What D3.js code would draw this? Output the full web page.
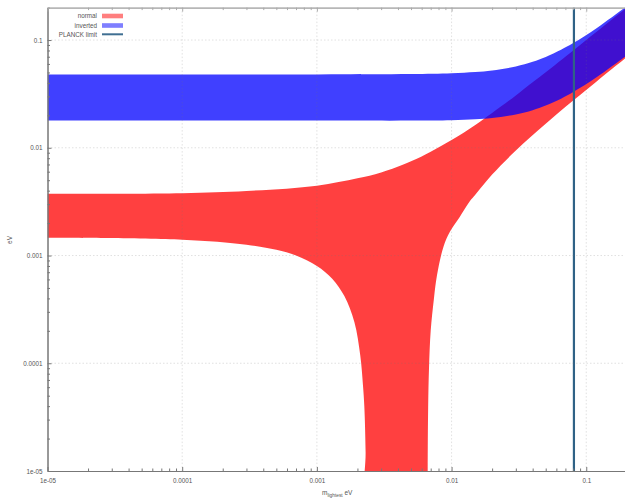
<!DOCTYPE html>
<html>
<head>
<meta charset="utf-8">
<script src="https://cdn.jsdelivr.net/npm/d3@7"></script>
<style>
  body { margin: 0; background: #fff; }
  svg { display: block; }
  text { font-family: "Liberation Sans", Arial, sans-serif; }
</style>
</head>
<body>
<svg id="chart" width="625" height="498"></svg>
<script>
// Effective Majorana mass bands, [m_lightest (eV), m_bb (eV)]
// Normal ordering: upper envelope
const normalUpper = [
  [1e-5, 0.00374], [1e-4, 0.00379], [3e-4, 0.00397], [1e-3, 0.00445],
  [2e-3, 0.0052], [3e-3, 0.0059], [5e-3, 0.0075], [7e-3, 0.0092],
  [0.01, 0.0118], [0.015, 0.0163], [0.02, 0.0210], [0.03, 0.0306],
  [0.04, 0.0405], [0.05, 0.0502], [0.08, 0.0800], [0.12, 0.1200], [0.2, 0.2000]
];
// Normal ordering: lower envelope, left of the cancellation region
const normalLowerLeft = [
  [1e-5, 0.00146], [1e-4, 0.00140], [3e-4, 0.00126], [5e-4, 0.00113],
  [7e-4, 0.00100], [1e-3, 0.00080], [1.3e-3, 0.00061], [1.6e-3, 0.00042],
  [1.9e-3, 0.00024], [2.1e-3, 0.000118], [2.2e-3, 0.000062],
  [2.25e-3, 0.000040], [2.3e-3, 0.000015], [2.33e-3, 0.000001]
];
// Normal ordering: lower envelope, right of the cancellation region
const normalLowerRight = [
  [0.00664, 0.000001], [0.00665, 0.000010], [0.0067, 0.000038],
  [0.0068, 0.000090], [0.007, 0.00020], [0.0074, 0.00040], [0.0078, 0.00066],
  [0.0087, 0.0012], [0.0097, 0.00165], [0.0115, 0.00228], [0.0137, 0.0032],
  [0.015, 0.00366], [0.02, 0.00564], [0.03, 0.00943], [0.05, 0.01672],
  [0.08, 0.02741], [0.12, 0.0415], [0.2, 0.0695]
];
// Inverted ordering: upper and lower envelopes
const invertedUpper = [
  [1e-5, 0.04789], [1e-3, 0.04790], [5e-3, 0.04826], [0.01, 0.04912],
  [0.015, 0.05044], [0.02, 0.05220], [0.03, 0.05687], [0.04, 0.06278],
  [0.05, 0.06962], [0.065, 0.08112], [0.08, 0.09362], [0.12, 0.12958],
  [0.2, 0.20608]
];
const invertedLower = [
  [1e-5, 0.01790], [1e-3, 0.01790], [5e-3, 0.01788], [0.01, 0.01805],
  [0.015, 0.01839], [0.02, 0.01891], [0.03, 0.02039], [0.04, 0.02233],
  [0.05, 0.02464], [0.065, 0.02855], [0.08, 0.03285], [0.12, 0.04527],
  [0.2, 0.07182]
];
// Cosmological bound on the lightest mass
const planckLimit = 0.081;

const majorTicks = [1e-5, 1e-4, 1e-3, 1e-2, 1e-1];
const xTickLabels = ["1e-05", "0.0001", "0.001", "0.01", "0.1"];
const yTickLabels = ["1e-05", "0.0001", "0.001", "0.01", "0.1"];
const legendLabels = ["normal", "inverted", "PLANCK limit"];

const svg = d3.select("#chart");
const plotLeft = 47.5, plotRight = 626.8, plotTop = 7.6, plotBottom = 471;

const x = d3.scaleLog().domain([1e-5, 0.2]).range([plotLeft, plotRight]);
const y = d3.scaleLog().domain([1e-5, 0.2]).range([plotBottom, plotTop]);

const minorTicks = [];
for (let e = -5; e <= -1; e++) {
  for (let k = 2; k <= 9; k++) {
    const v = k * Math.pow(10, e);
    if (v <= 0.2) minorTicks.push(v);
  }
}

svg.append("defs").append("clipPath").attr("id", "plot-clip")
  .append("rect").attr("x", plotLeft).attr("y", plotTop)
  .attr("width", plotRight - plotLeft).attr("height", plotBottom - plotTop);

const plot = svg.append("g").attr("clip-path", "url(#plot-clip)");

// Smooth edges through the tabulated points
const edge = d3.line().x(d => x(d[0])).y(d => y(d[1]))
  .curve(d3.curveCatmullRom.alpha(0.5));

// Closed band: upper edge left→right, lower edge right→left
function bandPath(upper, lowerReversed) {
  const a = edge(upper);
  const b = edge(lowerReversed).replace(/^M/, "L");
  return a + b + "Z";
}

const normalLower = normalLowerRight.slice().reverse()
  .concat(normalLowerLeft.slice().reverse());
plot.append("path")
  .attr("d", bandPath(normalUpper, normalLower))
  .attr("fill", "rgb(255,0,0)")
  .attr("fill-opacity", 0.75);

plot.append("path")
  .attr("d", bandPath(invertedUpper, invertedLower.slice().reverse()))
  .attr("fill", "rgb(0,0,255)")
  .attr("fill-opacity", 0.75);

// Dotted decade grid
const grid = svg.append("g").attr("stroke", "rgba(120,120,120,0.28)")
  .attr("stroke-width", 0.8).attr("stroke-dasharray", "1.5,2");
majorTicks.slice(1).forEach(v => {
  grid.append("line").attr("x1", x(v)).attr("x2", x(v))
    .attr("y1", plotTop).attr("y2", plotBottom);
  grid.append("line").attr("x1", plotLeft).attr("x2", plotRight)
    .attr("y1", y(v)).attr("y2", y(v));
});

// Planck limit line
plot.append("line")
  .attr("x1", x(planckLimit)).attr("x2", x(planckLimit))
  .attr("y1", plotTop).attr("y2", plotBottom)
  .attr("stroke", "#2f6286").attr("stroke-width", 2.2);

// Axes with inward ticks
function styleAxis(g, color) {
  g.select(".domain").attr("stroke", color);
  g.selectAll(".tick line").attr("stroke", color);
  g.selectAll(".tick text").attr("fill", "#555").attr("font-size", "6.3px")
    .attr("font-family", "Liberation Sans, Arial, sans-serif");
}

const xMinor = svg.append("g").attr("transform", `translate(0,${plotBottom})`)
  .call(d3.axisBottom(x).tickValues(minorTicks).tickFormat("").tickSizeInner(-2.5).tickSizeOuter(0));
styleAxis(xMinor, "#777");
const xMajor = svg.append("g").attr("transform", `translate(0,${plotBottom})`)
  .call(d3.axisBottom(x).tickValues(majorTicks)
    .tickFormat((d, i) => xTickLabels[i]).tickSizeInner(-4).tickSizeOuter(0).tickPadding(8));
styleAxis(xMajor, "#777");

const yMinor = svg.append("g").attr("transform", `translate(${plotLeft},0)`)
  .call(d3.axisLeft(y).tickValues(minorTicks).tickFormat("").tickSizeInner(-2.5).tickSizeOuter(0));
styleAxis(yMinor, "#777");
const yMajor = svg.append("g").attr("transform", `translate(${plotLeft},0)`)
  .call(d3.axisLeft(y).tickValues(majorTicks)
    .tickFormat((d, i) => yTickLabels[i]).tickSizeInner(-4).tickSizeOuter(0).tickPadding(5));
styleAxis(yMajor, "#777");

// Top frame with downward ticks
const xTopMinor = svg.append("g").attr("transform", `translate(0,${plotTop})`)
  .call(d3.axisTop(x).tickValues(minorTicks).tickFormat("").tickSizeInner(-2.5).tickSizeOuter(0));
styleAxis(xTopMinor, "#aaa");
const xTopMajor = svg.append("g").attr("transform", `translate(0,${plotTop})`)
  .call(d3.axisTop(x).tickValues(majorTicks).tickFormat("").tickSizeInner(-4).tickSizeOuter(0));
styleAxis(xTopMajor, "#aaa");

// Axis titles
const xTitle = svg.append("text").attr("x", 322).attr("y", 495)
  .attr("fill", "#555").attr("font-size", "6.5px");
xTitle.append("tspan").text("m");
xTitle.append("tspan").attr("font-size", "4.8px").attr("dy", 1.8).text("lightest");
xTitle.append("tspan").attr("dy", -1.8).text(" eV");

svg.append("text")
  .attr("transform", "translate(12,240) rotate(-90)")
  .attr("text-anchor", "middle").attr("fill", "#555").attr("font-size", "6.5px")
  .text("eV");

// Legend
const legend = svg.append("g");
const legendY = [16, 25.5, 34.3];
legendLabels.forEach((label, i) => {
  legend.append("text").attr("x", 97).attr("y", legendY[i] + 2.2)
    .attr("text-anchor", "end").attr("fill", "#555").attr("font-size", "6.3px")
    .text(label);
});
legend.append("rect").attr("x", 102).attr("y", legendY[0] - 2.3)
  .attr("width", 21).attr("height", 4.6).attr("fill", "rgb(255,0,0)").attr("fill-opacity", 0.5);
legend.append("rect").attr("x", 102).attr("y", legendY[1] - 2.3)
  .attr("width", 21).attr("height", 4.6).attr("fill", "rgb(0,0,255)").attr("fill-opacity", 0.5);
legend.append("line").attr("x1", 102).attr("x2", 123)
  .attr("y1", legendY[2]).attr("y2", legendY[2])
  .attr("stroke", "#3f6f92").attr("stroke-width", 2);
</script>
</body>
</html>
